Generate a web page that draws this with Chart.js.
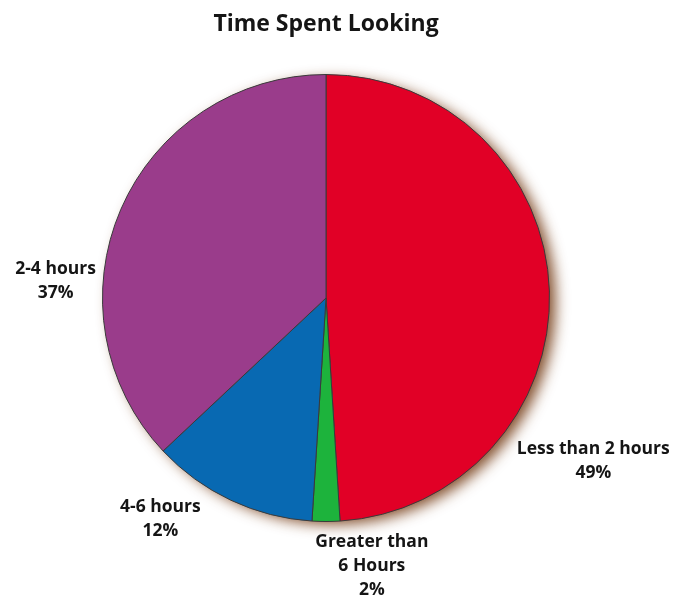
<!DOCTYPE html>
<html>
<head>
<meta charset="utf-8">
<script src="https://cdn.jsdelivr.net/npm/chart.js@4"></script>
<style>
  html, body { margin: 0; padding: 0; background: #fff; }
  #wrap { width: 673px; height: 599px; }
</style>
</head>
<body>
<div id="wrap"><canvas id="pie"></canvas></div>
<script>
const categories = ["Less than 2 hours", "Greater than 6 Hours", "4-6 hours", "2-4 hours"];
const percents = [49, 2, 12, 37];
const labelLines = [["Less than 2 hours", "49%"], ["Greater than", "6 Hours", "2%"], ["4-6 hours", "12%"], ["2-4 hours", "37%"]];
const sliceColors = ["#E10026", "#1DB33C", "#0869B2", "#9A3C8B"];

// where each label sits, relative to the pie centre (in radii)
const labelSpots = [[1.196, 0.728], [0.205, 1.20], [-0.741, 0.987], [-1.21, -0.076]];

const textPlugin = {
  id: "texts",
  beforeDatasetsDraw(chart) {
    const arc = chart.getDatasetMeta(0).data[0];
    const ctx = chart.ctx;
    ctx.save();
    ctx.shadowColor = "rgba(110,50,10,0.85)";
    ctx.shadowBlur = 14;
    ctx.shadowOffsetX = 7;
    ctx.shadowOffsetY = 4;
    ctx.fillStyle = "#fff";
    ctx.beginPath();
    ctx.arc(arc.x, arc.y, arc.outerRadius - 1, 0, Math.PI * 2);
    ctx.fill();
    ctx.restore();
  },
  afterDraw(chart) {
    const ctx = chart.ctx;
    const arc = chart.getDatasetMeta(0).data[0];
    const r = arc.outerRadius;
    ctx.save();
    ctx.fillStyle = "#151515";
    ctx.textAlign = "center";
    ctx.textBaseline = "middle";
    ctx.font = "bold 23px 'Open Sans'";
    ctx.fillText("Time Spent Looking", arc.x, 24);
    ctx.font = "bold 17.5px 'Open Sans'";
    labelLines.forEach((lines, i) => {
      const cx = arc.x + labelSpots[i][0] * r;
      const cy = arc.y + labelSpots[i][1] * r;
      const top = cy - (lines.length - 1) * 12;
      lines.forEach((t, j) => ctx.fillText(t, cx, top + j * 24));
    });
    ctx.restore();
  }
};

new Chart(document.getElementById("pie"), {
  type: "pie",
  data: {
    labels: categories,
    datasets: [{
      data: percents,
      backgroundColor: sliceColors,
      borderColor: "#3a3a3a",
      borderWidth: 1
    }]
  },
  options: {
    responsive: true,
    maintainAspectRatio: false,
    animation: false,
    layout: { padding: { top: 74, bottom: 77, left: 102, right: 123 } },
    plugins: {
      legend: { display: false },
      tooltip: { enabled: false }
    }
  },
  plugins: [textPlugin]
});
</script>
</body>
</html>
